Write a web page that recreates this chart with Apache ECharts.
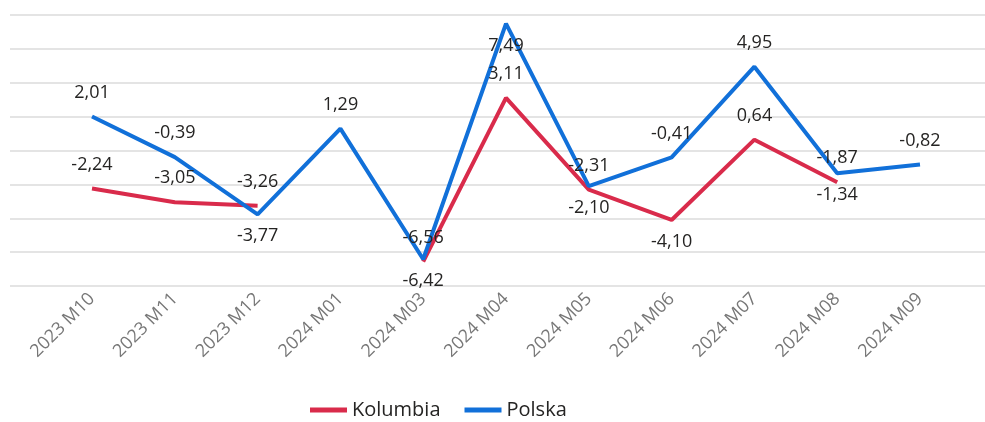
<!DOCTYPE html>
<html>
<head>
<meta charset="utf-8">
<script src="https://cdn.jsdelivr.net/npm/echarts@6/dist/echarts.min.js"></script>
<style>
  html, body { margin: 0; padding: 0; background: #fff; }
  #chart { width: 985px; height: 422px; }
</style>
</head>
<body>
<div id="chart"></div>
<script>
// miesiące na osi X
var categories = ['2023 M10', '2023 M11', '2023 M12', '2024 M01', '2024 M03', '2024 M04',
                  '2024 M05', '2024 M06', '2024 M07', '2024 M08', '2024 M09'];

// wartości serii (null = brak danych)
var kolumbia = [-2.24, -3.05, -3.26, null, -6.56, 3.11, -2.31, -4.10, 0.64, -1.87, null];
var polska   = [2.01, -0.39, -3.77, 1.29, -6.42, 7.49, -2.10, -0.41, 4.95, -1.34, -0.82];

// gdzie stoi etykieta danej wartości
var kolumbiaLabelPos = ['top', 'top', 'top', 'top', 'top', 'top', 'top', 'bottom', 'top', 'top', 'top'];
var polskaLabelPos   = ['top', 'top', 'bottom', 'top', 'bottom', 'bottom', 'bottom', 'top', 'top', 'bottom', 'top'];

var yMin = -8, yMax = 8, yStep = 2;

var font = '"Open Sans", "Noto Sans", sans-serif';

function fmt(v) {
    return v.toFixed(2).replace('.', ',');
}

function withLabels(values, positions) {
    return values.map(function (v, i) {
        if (v === null) return null;
        return {
            value: v,
            label: { position: positions[i], distance: positions[i] === 'top' ? 15 : 13 }
        };
    });
}

var labelStyle = {
    show: true,
    color: '#252423',
    fontSize: 18,
    fontFamily: font,
    formatter: function (p) { return fmt(p.value); }
};

var chart = echarts.init(document.getElementById('chart'));

var option = {
    animation: false,
    textStyle: { fontFamily: font },
    legend: {
        left: 305,
        bottom: -3,
        icon: 'rect',
        itemWidth: 37,
        itemHeight: 5,
        itemGap: 24,
        textStyle: { color: '#252423', fontSize: 20, fontFamily: font },
        data: ['Kolumbia', 'Polska']
    },
    grid: [
        // siatka w tle (pełna szerokość)
        { left: 10, right: 0, top: 15, bottom: 136 },
        // obszar danych
        { left: 50.6, right: 23.6, top: 15, bottom: 136 }
    ],
    xAxis: [
        { gridIndex: 0, type: 'value', min: 0, max: 1, show: false },
        {
            gridIndex: 1,
            type: 'category',
            data: categories,
            boundaryGap: true,
            axisLine: { show: false },
            axisTick: { show: false },
            axisLabel: {
                rotate: 45,
                margin: 10,
                color: '#777777',
                fontSize: 18,
                fontFamily: font
            }
        }
    ],
    yAxis: [
        {
            gridIndex: 0,
            type: 'value',
            min: yMin,
            max: yMax,
            interval: yStep,
            axisLine: { show: false },
            axisTick: { show: false },
            axisLabel: { show: false },
            splitLine: { lineStyle: { color: '#e4e4e4', width: 2 } }
        },
        {
            gridIndex: 1,
            type: 'value',
            min: yMin,
            max: yMax,
            interval: yStep,
            axisLine: { show: false },
            axisTick: { show: false },
            axisLabel: { show: false },
            splitLine: { show: false }
        }
    ],
    series: [
        {
            name: 'Kolumbia',
            type: 'line',
            xAxisIndex: 1,
            yAxisIndex: 1,
            data: withLabels(kolumbia, kolumbiaLabelPos),
            color: '#D92B4B',
            lineStyle: { width: 4, color: '#D92B4B' },
            symbol: 'circle',
            symbolSize: 0,
            showSymbol: true,
            connectNulls: false,
            label: labelStyle,
            labelLayout: { hideOverlap: false }
        },
        {
            name: 'Polska',
            type: 'line',
            xAxisIndex: 1,
            yAxisIndex: 1,
            data: withLabels(polska, polskaLabelPos),
            color: '#1170D9',
            lineStyle: { width: 4, color: '#1170D9' },
            symbol: 'circle',
            symbolSize: 0,
            showSymbol: true,
            label: labelStyle,
            labelLayout: { hideOverlap: false }
        }
    ]
};

chart.setOption(option);
</script>
</body>
</html>
